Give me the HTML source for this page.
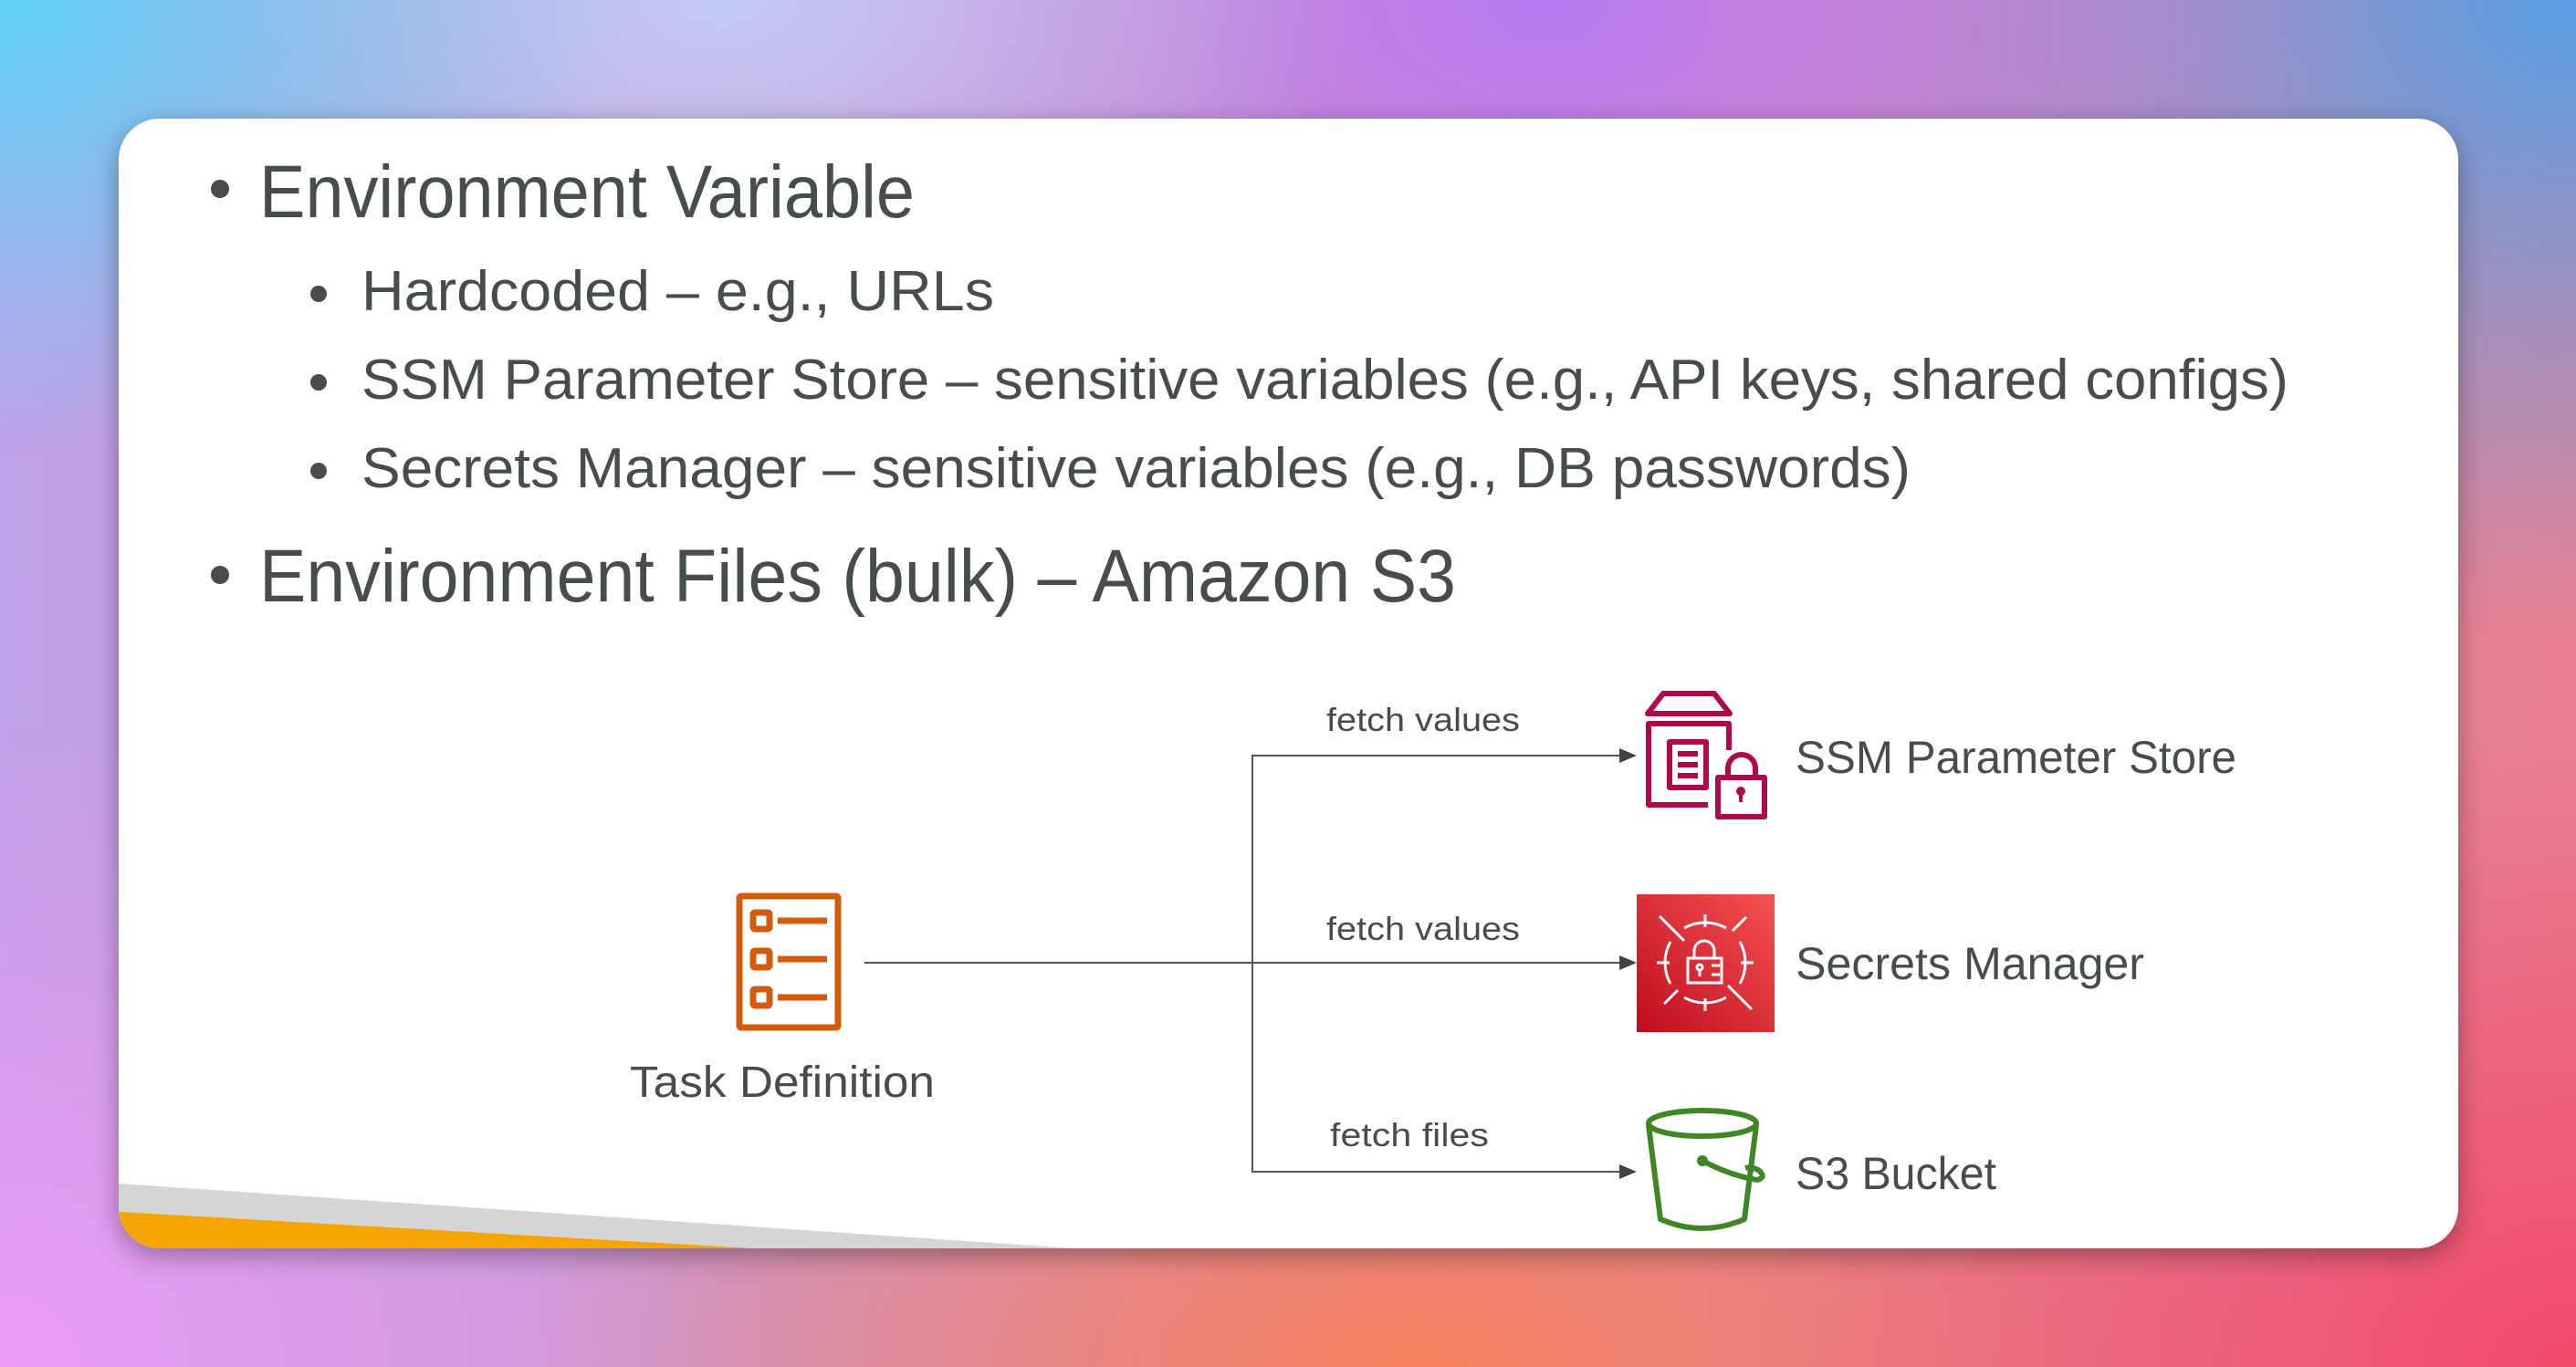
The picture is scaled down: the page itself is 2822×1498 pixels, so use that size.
<!DOCTYPE html>
<html><head><meta charset="utf-8"><style>
html,body{margin:0;padding:0;width:2822px;height:1498px;overflow:hidden}
body{background:
radial-gradient(ellipse 700px 500px at 0% 0%, #5fd3f5 0%, rgba(95,211,245,0) 100%),
radial-gradient(ellipse 700px 400px at 28% 0%, #c4cbf5 0%, rgba(196,203,245,0) 100%),
radial-gradient(ellipse 900px 600px at 60% 0%, #b67af2 0%, rgba(182,122,242,0) 100%),
radial-gradient(ellipse 900px 700px at 100% 0%, #5a9fe6 0%, rgba(90,159,230,0) 100%),
radial-gradient(ellipse 800px 700px at 0% 100%, #ec9cf5 0%, rgba(236,156,245,0) 100%),
radial-gradient(ellipse 1000px 700px at 100% 100%, #f24a6a 0%, rgba(242,74,106,0) 100%),
radial-gradient(ellipse 1000px 500px at 55% 100%, #f8805e 0%, rgba(248,128,94,0) 100%),
linear-gradient(90deg,#c0a0e8,#e88090);}
svg{position:absolute;left:0;top:0}
</style></head><body>
<svg width="2822" height="1498" viewBox="0 0 2822 1498" xmlns="http://www.w3.org/2000/svg">
<defs>
<filter id="sh" x="-5%" y="-5%" width="110%" height="115%"><feDropShadow dx="0" dy="8" stdDeviation="14" flood-color="#000" flood-opacity="0.35"/></filter>
<clipPath id="cc"><rect x="130" y="130" width="2563" height="1238" rx="45"/></clipPath>
<linearGradient id="rg" x1="0" y1="1" x2="1" y2="0"><stop offset="0" stop-color="#bd0d1d"/><stop offset="1" stop-color="#f65253"/></linearGradient>
</defs>
<rect x="130" y="130" width="2563" height="1238" rx="45" fill="#fff" filter="url(#sh)"/>
<g clip-path="url(#cc)">
<polygon points="130,1297 1176,1368 130,1368" fill="#d5d5d5"/>
<polygon points="130,1328 826,1368 130,1368" fill="#f6a500"/>
</g>
<g font-family="'Liberation Sans',sans-serif" fill="#474c4d">
<circle cx="241" cy="207" r="10"/>
<text x="284" y="238" font-size="82" textLength="718" lengthAdjust="spacingAndGlyphs">Environment Variable</text>
<circle cx="349" cy="322" r="9"/>
<text x="396" y="340" font-size="62" textLength="693" lengthAdjust="spacingAndGlyphs">Hardcoded – e.g., URLs</text>
<circle cx="349" cy="419" r="9"/>
<text x="396" y="437" font-size="62" textLength="2111" lengthAdjust="spacingAndGlyphs">SSM Parameter Store – sensitive variables (e.g., API keys, shared configs)</text>
<circle cx="349" cy="516" r="9"/>
<text x="396" y="534" font-size="62" textLength="1697" lengthAdjust="spacingAndGlyphs">Secrets Manager – sensitive variables (e.g., DB passwords)</text>
<circle cx="241" cy="630" r="10"/>
<text x="284" y="659" font-size="82" textLength="1311" lengthAdjust="spacingAndGlyphs">Environment Files (bulk) – Amazon S3</text>

<text x="857" y="1202" font-size="48" text-anchor="middle" textLength="334" lengthAdjust="spacingAndGlyphs">Task Definition</text>
<text x="1559" y="801" font-size="36" text-anchor="middle" textLength="212" lengthAdjust="spacingAndGlyphs">fetch values</text>
<text x="1559" y="1030" font-size="36" text-anchor="middle" textLength="212" lengthAdjust="spacingAndGlyphs">fetch values</text>
<text x="1544" y="1256" font-size="36" text-anchor="middle" textLength="174" lengthAdjust="spacingAndGlyphs">fetch files</text>
<text x="1967" y="847" font-size="50" textLength="483" lengthAdjust="spacingAndGlyphs">SSM Parameter Store</text>
<text x="1967" y="1073" font-size="50" textLength="382" lengthAdjust="spacingAndGlyphs">Secrets Manager</text>
<text x="1967" y="1303" font-size="50" textLength="220" lengthAdjust="spacingAndGlyphs">S3 Bucket</text>
</g>

<g stroke="#555" stroke-width="2" fill="none">
<line x1="947" y1="1055" x2="1776" y2="1055"/>
<polyline points="1776,828 1372,828 1372,1284 1776,1284"/>
</g>
<g fill="#3f4546">
<polygon points="1793,828 1774,820 1774,836"/>
<polygon points="1793,1055 1774,1047 1774,1063"/>
<polygon points="1793,1284 1774,1276 1774,1292"/>
</g>

<g stroke="#d45b0d" stroke-width="7" fill="none" stroke-linejoin="round">
<rect x="810" y="982" width="108" height="144" rx="2"/>
<rect x="825" y="1000" width="18" height="18" rx="2"/>
<rect x="825" y="1042" width="18" height="18" rx="2"/>
<rect x="825" y="1084" width="18" height="18" rx="2"/>
<line x1="852" y1="1009" x2="906" y2="1009"/>
<line x1="852" y1="1051" x2="906" y2="1051"/>
<line x1="852" y1="1093" x2="906" y2="1093"/>
</g>

<g stroke="#b0084d" stroke-width="6" fill="none" stroke-linejoin="round">
<polygon points="1822,760 1878,760 1895,782 1805,782"/>
<polyline points="1871,882 1806,882 1806,793 1894,793 1894,822"/>
<rect x="1829" y="813" width="40" height="50"/>
<line x1="1838" y1="826" x2="1860" y2="826"/>
<line x1="1838" y1="838" x2="1860" y2="838"/>
<line x1="1838" y1="850" x2="1860" y2="850"/>
<rect x="1882" y="852" width="51" height="43"/>
<path d="M1893,852 v-10 a15,15 0 0 1 30,0 v10"/>
</g>
<circle cx="1907" cy="867" r="5" fill="#b0084d"/>
<rect x="1905" y="867" width="4" height="12" fill="#b0084d"/>

<rect x="1793" y="980" width="151" height="151" fill="url(#rg)"/>
<g stroke="#fff" stroke-width="3" fill="none">
<path d="M1845,1017 A47,47 0 0 1 1891,1017"/>
<path d="M1845,1093 A47,47 0 0 0 1891,1093"/>
<path d="M1830,1032 A47,47 0 0 0 1830,1078"/>
<path d="M1906,1032 A47,47 0 0 1 1906,1078"/>
<line x1="1818" y1="1004" x2="1845" y2="1031"/>
<line x1="1893" y1="1080" x2="1919" y2="1106"/>
<line x1="1898" y1="1020" x2="1913" y2="1005"/>
<line x1="1823" y1="1100" x2="1838" y2="1085"/>
<line x1="1868" y1="1002" x2="1868" y2="1016"/>
<line x1="1868" y1="1094" x2="1868" y2="1108"/>
<line x1="1815" y1="1055" x2="1829" y2="1055"/>
<line x1="1907" y1="1055" x2="1921" y2="1055"/>
<rect x="1849" y="1050" width="37" height="27"/>
<path d="M1856,1050 v-8 a11,11 0 0 1 22,0 v8"/>
<circle cx="1862" cy="1060" r="3"/>
<line x1="1862" y1="1063" x2="1862" y2="1070"/>
<line x1="1875" y1="1058" x2="1884" y2="1058"/>
<line x1="1875" y1="1068" x2="1884" y2="1068"/>
</g>

<g stroke="#3f8624" stroke-width="6" fill="none" stroke-linejoin="round">
<ellipse cx="1865" cy="1231" rx="59" ry="14"/>
<path d="M1806,1233 L1819,1336 Q1865,1356 1911,1336 L1924,1233"/>
<path d="M1865,1272 Q1895,1288 1925,1293 Q1936,1290 1926,1282 Q1918,1278 1912,1280"/>
</g>
<circle cx="1865" cy="1272" r="6" fill="#3f8624"/>
</svg>
</body></html>
